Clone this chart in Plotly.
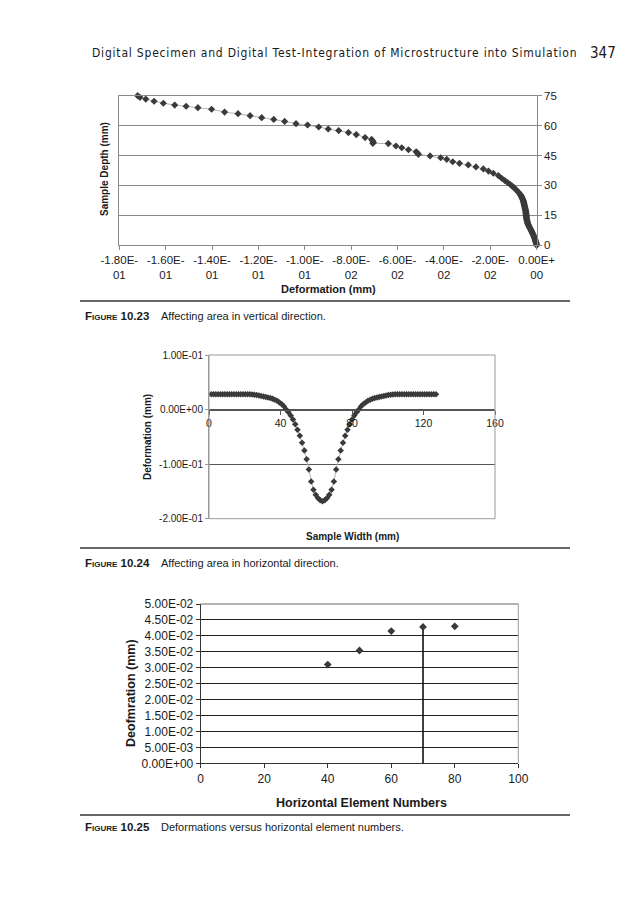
import plotly.graph_objects as go

# ---------------- Figure 10.23 data (vertical direction) ----------------
depth_mm = [75.0, 74.2, 73.3, 72.2, 71.2, 70.3, 69.7, 69.0, 68.2, 66.8, 66.0, 65.0, 64.0, 63.1, 62.1,
            61.0, 60.3, 59.3, 58.3, 57.5, 56.5, 55.5, 54.0, 53.1, 52.3, 51.6, 51.1, 51.0, 49.8, 48.9,
            47.9, 46.9, 46.3, 45.6, 44.8, 43.9, 43.1, 41.9, 41.1, 40.3, 39.3, 38.3, 37.2, 36.1, 34.9,
            33.6, 32.4, 31.4, 30.6, 29.7, 28.9, 27.9, 26.9, 26.1,
            25.5, 25.0, 24.5, 24.0, 23.5, 23.0, 22.5, 22.0, 21.5, 21.0, 20.5, 20.0, 19.5, 19.0, 18.5,
            18.0, 17.5, 17.0, 16.5, 16.0, 15.5, 15.0, 14.5, 14.0, 13.5, 13.0, 12.5, 12.0, 11.5, 11.0,
            10.5, 10.0, 9.5, 9.0, 8.5, 8.0, 7.5, 7.0, 6.5, 6.0, 5.5, 5.0, 4.5, 4.0, 3.5, 3.0, 2.5,
            2.0, 1.5, 1.0, 0.5, 0.0]
deform_vert_mm = [-0.1721, -0.1711, -0.1686, -0.1650, -0.1610, -0.1561, -0.1512, -0.1461, -0.1402,
                  -0.1346, -0.1288, -0.1236, -0.1186, -0.1134, -0.1087, -0.1038, -0.0988, -0.0940,
                  -0.0899, -0.0854, -0.0812, -0.0778, -0.0740, -0.0712, -0.0707, -0.0704, -0.0707,
                  -0.0640, -0.0607, -0.0582, -0.0553, -0.0520, -0.0515, -0.0510, -0.0460, -0.0414,
                  -0.0388, -0.0362, -0.0333, -0.0295, -0.0262, -0.0230, -0.0208, -0.0187, -0.0165,
                  -0.0151, -0.0137, -0.0125, -0.0115, -0.0106, -0.0098, -0.0089, -0.0081, -0.0075,
                  -0.0071, -0.0068, -0.0066, -0.0064, -0.0062, -0.0060, -0.0058, -0.0057, -0.0056,
                  -0.0055, -0.0054, -0.0053, -0.0052, -0.0051, -0.0050, -0.0049, -0.0048, -0.0047,
                  -0.0047, -0.0046, -0.0046, -0.0045, -0.0045, -0.0044, -0.0044, -0.0043, -0.0042,
                  -0.0041, -0.0040, -0.0039, -0.0037, -0.0035, -0.0033, -0.0031, -0.0029, -0.0026,
                  -0.0024, -0.0022, -0.0020, -0.0018, -0.0016, -0.0014, -0.0012, -0.0010, -0.0009,
                  -0.0007, -0.0006, -0.0005, -0.0003, -0.0002, -0.0001, 0.0]

c1_xtick_vals = [-0.18, -0.16, -0.14, -0.12, -0.10, -0.08, -0.06, -0.04, -0.02, 0.0]
c1_xtick_text = ["-1.80E-<br>01", "-1.60E-<br>01", "-1.40E-<br>01", "-1.20E-<br>01", "-1.00E-<br>01",
                 "-8.00E-<br>02", "-6.00E-<br>02", "-4.00E-<br>02", "-2.00E-<br>02", "0.00E+<br>00"]
c1_ytick_vals = [0, 15, 30, 45, 60, 75]

# ---------------- Figure 10.24 data (horizontal direction) ----------------
width_mm = [1.27, 2.54, 3.81, 5.08, 6.35, 7.62, 8.89, 10.16, 11.43, 12.7, 13.97, 15.24, 16.51, 17.78,
            19.05, 20.32, 21.59, 22.86, 24.13, 25.4, 26.67, 27.94, 29.21, 30.48, 31.75, 33.02, 34.29,
            35.56, 36.83, 38.1, 39.37, 40.64, 41.91, 43.18, 44.45, 45.72, 46.99, 48.26, 49.53, 50.8,
            52.07, 53.34, 54.61, 55.88, 57.15, 58.42, 59.69, 60.96, 62.23, 63.5, 64.77, 66.04, 67.31,
            68.58, 69.85, 71.12, 72.39, 73.66, 74.93, 76.2, 77.47, 78.74, 80.01, 81.28, 82.55, 83.82,
            85.09, 86.36, 87.63, 88.9, 90.17, 91.44, 92.71, 93.98, 95.25, 96.52, 97.79, 99.06, 100.33,
            101.6, 102.87, 104.14, 105.41, 106.68, 107.95, 109.22, 110.49, 111.76, 113.03, 114.3,
            115.57, 116.84, 118.11, 119.38, 120.65, 121.92, 123.19, 124.46, 125.73, 127.0]
deform_horiz_mm = [0.028, 0.028, 0.028, 0.028, 0.028, 0.028, 0.028, 0.028, 0.028, 0.028, 0.028, 0.028,
                   0.028, 0.028, 0.028, 0.028, 0.028, 0.028, 0.0275, 0.027, 0.0265, 0.026, 0.025,
                   0.024, 0.023, 0.022, 0.021, 0.020, 0.018, 0.016, 0.013, 0.010, 0.006, 0.000,
                   -0.005, -0.011, -0.018, -0.027, -0.037, -0.048, -0.061, -0.075, -0.091, -0.110,
                   -0.132, -0.147, -0.156, -0.162, -0.166, -0.168, -0.166, -0.162, -0.156, -0.147,
                   -0.132, -0.110, -0.091, -0.075, -0.061, -0.048, -0.037, -0.027, -0.018, -0.011,
                   -0.005, 0.000, 0.006, 0.010, 0.013, 0.016, 0.018, 0.020, 0.021, 0.022, 0.023,
                   0.024, 0.025, 0.026, 0.0265, 0.027, 0.0275, 0.028, 0.028, 0.028, 0.028, 0.028,
                   0.028, 0.028, 0.028, 0.028, 0.028, 0.028, 0.028, 0.028, 0.028, 0.028, 0.028,
                   0.028, 0.028, 0.028]

c2_xtick_vals = [0, 40, 80, 120, 160]
c2_ytick_vals = [-0.2, -0.1, 0.0, 0.1]
c2_ytick_text = ["-2.00E-01", "-1.00E-01", "0.00E+00", "1.00E-01"]

# ---------------- Figure 10.25 data ----------------
element_no = [40, 50, 60, 70, 80]
deform_elem_mm = [0.031, 0.0354, 0.0415, 0.0428, 0.043]

c3_xtick_vals = [0, 20, 40, 60, 80, 100]
c3_ytick_vals = [0.0, 0.005, 0.01, 0.015, 0.02, 0.025, 0.03, 0.035, 0.04, 0.045, 0.05]
c3_ytick_text = ["0.00E+00", "5.00E-03", "1.00E-02", "1.50E-02", "2.00E-02", "2.50E-02",
                 "3.00E-02", "3.50E-02", "4.00E-02", "4.50E-02", "5.00E-02"]

# ---------------- layout helpers ----------------
W, H = 621, 900
def fx(p):
    return p / W
def fy(p):
    return 1 - p / H

FONT = "Liberation Sans, Arial, sans-serif"
MARK = "#3a3a3a"

fig = go.Figure()

fig.add_trace(go.Scatter(x=deform_vert_mm, y=depth_mm, mode="lines+markers",
                         line=dict(color="#b5b5b5", width=1),
                         marker=dict(symbol="diamond", size=5.5, color=MARK),
                         cliponaxis=False, xaxis="x", yaxis="y"))
fig.add_trace(go.Scatter(x=width_mm, y=deform_horiz_mm, mode="lines+markers",
                         line=dict(color="#b5b5b5", width=1),
                         marker=dict(symbol="diamond", size=5, color=MARK),
                         cliponaxis=False, xaxis="x2", yaxis="y2"))
fig.add_trace(go.Scatter(x=[element_no[3], element_no[3]], y=[0, deform_elem_mm[3]], mode="lines",
                         line=dict(color="#111111", width=1.6), xaxis="x3", yaxis="y3",
                         hoverinfo="skip"))
fig.add_trace(go.Scatter(x=element_no, y=deform_elem_mm, mode="markers",
                         marker=dict(symbol="diamond", size=6, color=MARK),
                         cliponaxis=False, xaxis="x3", yaxis="y3"))

# chart rectangles (px)
c1 = dict(l=119.3, r=536.7, t=95.7, b=245.3)
c2 = dict(l=209.0, r=495.0, t=355.0, b=518.7)
c3 = dict(l=200.7, r=518.3, t=604.0, b=763.3)

zero_pos_c2 = fy(c2["b"]) + (0 - (-0.2)) / 0.3 * (fy(c2["t"]) - fy(c2["b"]))

fig.update_layout(
    width=W, height=H, autosize=False, showlegend=False,
    margin=dict(l=0, r=0, t=0, b=0, pad=0),
    paper_bgcolor="white", plot_bgcolor="white",
    font=dict(family=FONT, color="#1a1a1a"),
    xaxis=dict(domain=[fx(c1["l"]), fx(c1["r"])], range=[-0.18, 0], anchor="y", automargin=False,
               tickvals=c1_xtick_vals, ticktext=c1_xtick_text, ticks="outside", ticklen=4,
               tickcolor="#8a8a8a", showline=True, linecolor="#8a8a8a", mirror=True,
               showgrid=False, zeroline=False, tickfont=dict(size=11.5)),
    yaxis=dict(domain=[fy(c1["b"]), fy(c1["t"])], range=[0, 75], anchor="x", side="right",
               automargin=False,
               tickvals=c1_ytick_vals, ticks="outside", ticklen=4, tickcolor="#8a8a8a",
               showline=True, linecolor="#8a8a8a", mirror=True, showgrid=True,
               gridcolor="#8a8a8a", gridwidth=1, zeroline=False, tickfont=dict(size=11.5)),
    xaxis2=dict(domain=[fx(c2["l"]), fx(c2["r"])], range=[0, 160], anchor="free",
                position=zero_pos_c2, automargin=False, tickvals=c2_xtick_vals, ticks="outside",
                ticklen=4, tickcolor="#555555", showline=True, linecolor="#555555", showgrid=False,
                zeroline=False, tickfont=dict(size=10.5)),
    yaxis2=dict(domain=[fy(c2["b"]), fy(c2["t"])], range=[-0.2, 0.1], anchor="x2",
                automargin=False,
                tickvals=c2_ytick_vals, ticktext=c2_ytick_text, ticks="outside", ticklen=3,
                tickcolor="#9a9a9a", showline=True, linecolor="#9a9a9a", showgrid=True,
                gridcolor="#555555", gridwidth=1, zeroline=False, tickfont=dict(size=10)),
    xaxis3=dict(domain=[fx(c3["l"]), fx(c3["r"])], range=[0, 100], anchor="y3", automargin=False,
                tickvals=c3_xtick_vals, ticks="outside", ticklen=4, tickcolor="#333333",
                showline=True, linecolor="#333333", showgrid=False, zeroline=False,
                tickfont=dict(size=12)),
    yaxis3=dict(domain=[fy(c3["b"]), fy(c3["t"])], range=[0, 0.05], anchor="x3", automargin=False,
                tickvals=c3_ytick_vals, ticktext=c3_ytick_text, ticks="outside", ticklen=4,
                tickcolor="#333333", showline=True, linecolor="#333333", showgrid=True,
                gridcolor="#222222", gridwidth=1.3, zeroline=False, tickfont=dict(size=12)),
)

shapes = []
# plot borders for charts 2 and 3
shapes.append(dict(type="rect", xref="x2 domain", yref="y2 domain", x0=0, x1=1, y0=0, y1=1,
                   line=dict(color="#9a9a9a", width=1), layer="above"))
shapes.append(dict(type="line", xref="x3 domain", yref="y3 domain", x0=0, x1=1, y0=1, y1=1,
                   line=dict(color="#9a9a9a", width=1.3), layer="above"))
shapes.append(dict(type="line", xref="x3 domain", yref="y3 domain", x0=1, x1=1, y0=0, y1=1,
                   line=dict(color="#9a9a9a", width=1), layer="above"))
# caption rules
for ry in [301, 548, 815]:
    shapes.append(dict(type="line", xref="paper", yref="paper", x0=fx(80), x1=fx(570),
                       y0=fy(ry), y1=fy(ry), line=dict(color="#333333", width=1.6)))
fig.update_layout(shapes=shapes)

ann = []
def add_text(text, x, y, size, xanchor="center", bold=False, angle=0, family=FONT, color="#1a1a1a"):
    ann.append(dict(text=("<b>%s</b>" % text) if bold else text, x=fx(x), y=fy(y),
                    xref="paper", yref="paper", xanchor=xanchor, yanchor="middle",
                    showarrow=False, textangle=angle,
                    font=dict(size=size, family=family, color=color)))

# running header
HEAD_FONT = "Liberation Sans Narrow, DejaVu Sans Condensed, Roboto Condensed, Liberation Sans, sans-serif"
add_text('<span style="letter-spacing:0.8px">Digital Specimen and Digital Test-Integration of '
         'Microstructure into Simulation</span>', 90, 53, 12, xanchor="left", family=HEAD_FONT)
add_text("347", 618, 53, 15, xanchor="right", family=HEAD_FONT)

# chart titles
add_text("Sample Depth (mm)", 104, 169, 10, bold=True, angle=-90)
add_text("Deformation (mm)", 328, 289, 11, bold=True)
add_text("Deformation (mm)", 148, 437, 10, bold=True, angle=-90)
add_text("Sample Width (mm)", 352, 536, 10, bold=True)
add_text("Deofmration (mm)", 131, 693, 12.5, bold=True, angle=-90)
add_text("Horizontal Element Numbers", 361, 803, 12.5, bold=True)

# captions
for cy, num, cap in [(316, "10.23", "Affecting area in vertical direction."),
                     (563, "10.24", "Affecting area in horizontal direction."),
                     (827, "10.25", "Deformations versus horizontal element numbers.")]:
    add_text('F<span style="font-size:8px">IGURE</span> ' + num, 83, cy, 11.5,
             xanchor="left", bold=True)
    add_text(cap, 159, cy, 11, xanchor="left")

fig.update_layout(annotations=ann)

fig.write_html("out.html", config={"displayModeBar": False},
               post_script="document.body.style.margin='0px';document.body.style.padding='0px';")
